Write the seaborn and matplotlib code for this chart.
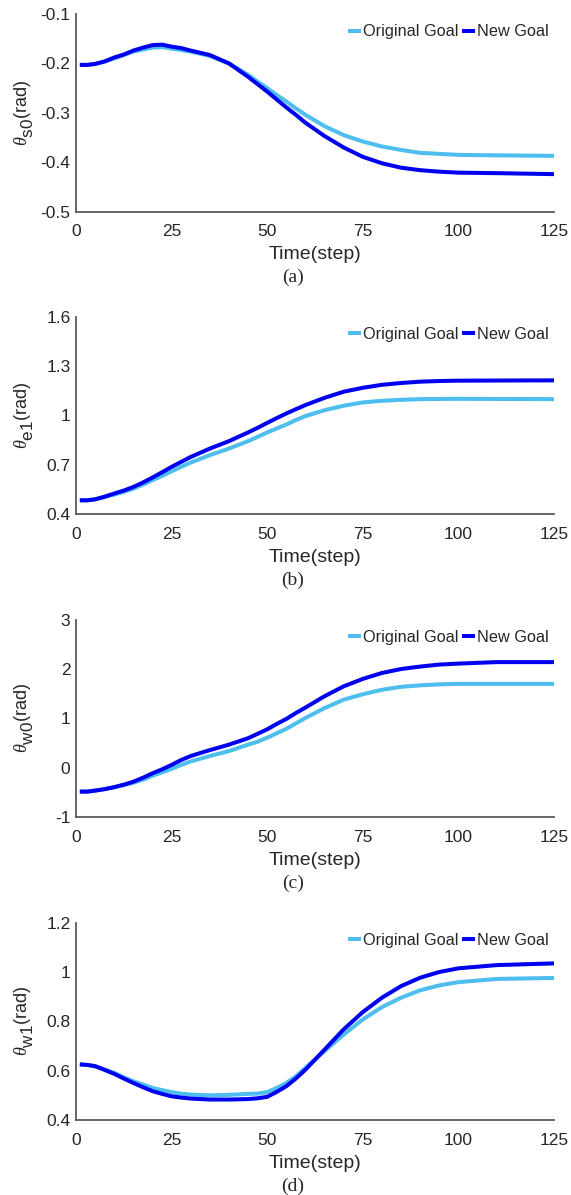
import numpy as np
import pandas as pd
import matplotlib
matplotlib.use("Agg")
import matplotlib.pyplot as plt
import matplotlib._mathtext as mathtext_engine
import seaborn as sns

# Time steps at which the joint angles are sampled
steps = [1, 3, 5, 7.5, 10, 12.5, 15, 17.5, 20, 22.5, 25, 27.5, 30, 35, 40, 45,
         47.5, 50, 52.5, 55, 57.5, 60, 65, 70, 75, 80, 85, 90, 95, 100, 110, 125]

# Shoulder joint s0 (rad)
s0_original = [-0.203, -0.203, -0.201, -0.196, -0.190, -0.183, -0.176, -0.172, -0.168,
               -0.167, -0.170, -0.173, -0.176, -0.185, -0.200, -0.223, -0.237, -0.250,
               -0.264, -0.277, -0.291, -0.304, -0.327, -0.345, -0.358, -0.368, -0.375,
               -0.381, -0.383, -0.385, -0.386, -0.387]
s0_new = [-0.203, -0.203, -0.201, -0.196, -0.188, -0.182, -0.174, -0.168, -0.163,
          -0.162, -0.166, -0.169, -0.174, -0.183, -0.200, -0.227, -0.242, -0.257,
          -0.273, -0.289, -0.304, -0.320, -0.347, -0.370, -0.389, -0.402, -0.411,
          -0.416, -0.419, -0.421, -0.422, -0.424]

# Elbow joint e1 (rad)
e1_original = [0.485, 0.485, 0.491, 0.505, 0.520, 0.536, 0.556, 0.580, 0.607, 0.633,
               0.661, 0.688, 0.714, 0.759, 0.799, 0.844, 0.870, 0.897, 0.921, 0.945,
               0.972, 0.996, 1.032, 1.059, 1.079, 1.089, 1.095, 1.099, 1.100, 1.101,
               1.100, 1.099]
e1_new = [0.485, 0.485, 0.491, 0.507, 0.526, 0.544, 0.566, 0.593, 0.623, 0.655,
          0.688, 0.718, 0.748, 0.799, 0.844, 0.897, 0.925, 0.955, 0.984, 1.012,
          1.038, 1.063, 1.107, 1.144, 1.168, 1.186, 1.197, 1.205, 1.209, 1.211,
          1.212, 1.213]

# Wrist joint w0 (rad)
w0_original = [-0.48, -0.48, -0.46, -0.43, -0.39, -0.35, -0.30, -0.24, -0.16, -0.09,
               -0.02, 0.06, 0.13, 0.24, 0.34, 0.47, 0.53, 0.61, 0.70, 0.79,
               0.90, 1.01, 1.21, 1.38, 1.49, 1.58, 1.64, 1.67, 1.69, 1.70,
               1.70, 1.70]
w0_new = [-0.48, -0.48, -0.46, -0.43, -0.39, -0.34, -0.28, -0.20, -0.11, -0.03,
          0.06, 0.16, 0.24, 0.36, 0.47, 0.60, 0.69, 0.78, 0.89, 0.99,
          1.11, 1.22, 1.45, 1.65, 1.80, 1.92, 2.00, 2.05, 2.09, 2.11,
          2.14, 2.14]

# Wrist joint w1 (rad)
w1_original = [0.626, 0.624, 0.619, 0.605, 0.592, 0.574, 0.558, 0.545, 0.531, 0.522,
               0.514, 0.508, 0.504, 0.501, 0.503, 0.507, 0.508, 0.514, 0.531, 0.551,
               0.578, 0.612, 0.680, 0.747, 0.808, 0.858, 0.896, 0.926, 0.946, 0.959,
               0.972, 0.976]
w1_new = [0.626, 0.624, 0.619, 0.604, 0.588, 0.569, 0.551, 0.534, 0.518, 0.507,
          0.497, 0.492, 0.488, 0.484, 0.484, 0.486, 0.489, 0.495, 0.515, 0.538,
          0.569, 0.605, 0.686, 0.768, 0.838, 0.896, 0.943, 0.977, 1.000, 1.015,
          1.028, 1.035]

series_names = ["Original Goal", "New Goal"]
x_ticks = [0, 25, 50, 75, 100, 125]

panels = [
    dict(orig=s0_original, new=s0_new, joint="s0", caption="(a)",
         yticks=[-0.5, -0.4, -0.3, -0.2, -0.1],
         yticklabels=["-0.5", "-0.4", "-0.3", "-0.2", "-0.1"]),
    dict(orig=e1_original, new=e1_new, joint="e1", caption="(b)",
         yticks=[0.4, 0.7, 1.0, 1.3, 1.6],
         yticklabels=["0.4", "0.7", "1", "1.3", "1.6"]),
    dict(orig=w0_original, new=w0_new, joint="w0", caption="(c)",
         yticks=[-1, 0, 1, 2, 3],
         yticklabels=["-1", "0", "1", "2", "3"]),
    dict(orig=w1_original, new=w1_new, joint="w1", caption="(d)",
         yticks=[0.4, 0.6, 0.8, 1.0, 1.2],
         yticklabels=["0.4", "0.6", "0.8", "1", "1.2"]),
]

sns.set_theme(style="white")
plt.rcParams["font.family"] = ["Liberation Sans", "DejaVu Sans"]
plt.rcParams["axes.unicode_minus"] = False
plt.rcParams["mathtext.fontset"] = "custom"
plt.rcParams["mathtext.rm"] = "Liberation Sans"
plt.rcParams["mathtext.it"] = "Liberation Serif:italic"
# joint subscripts: nearly full size and set below the baseline
mathtext_engine.SHRINK_FACTOR = 0.95
mathtext_engine.FontConstantsBase.sub1 = 0.75

palette = {"Original Goal": "#4DBEEE", "New Goal": "#0000F0"}
axis_color = "#5a5a5a"
text_color = "#262626"

W, H = 571, 1195
fig = plt.figure(figsize=(W / 100, H / 100), dpi=100)

left_px, right_px = 76, 554
bottoms_px = [211.7, 514.3, 817.3, 1120.3]
height_px = 197.7

for p, bottom in zip(panels, bottoms_px):
    ax = fig.add_axes([left_px / W, 1 - bottom / H,
                       (right_px - left_px) / W, height_px / H])
    df = pd.DataFrame({
        "step": steps * 2,
        "angle": list(p["orig"]) + list(p["new"]),
        "goal": [series_names[0]] * len(steps) + [series_names[1]] * len(steps),
    })
    sns.lineplot(data=df, x="step", y="angle", hue="goal", hue_order=series_names,
                 palette=palette, linewidth=2.9, errorbar=None, ax=ax,
                 solid_joinstyle="round", solid_capstyle="butt")

    ax.set_xlim(0, 125)
    ax.set_ylim(p["yticks"][0], p["yticks"][-1])
    ax.set_xticks(x_ticks)
    ax.set_xticklabels([str(t) for t in x_ticks])
    ax.set_yticks(p["yticks"])
    ax.set_yticklabels(p["yticklabels"])

    for side in ("top", "right"):
        ax.spines[side].set_visible(False)
    for side in ("left", "bottom"):
        ax.spines[side].set_color(axis_color)
        ax.spines[side].set_linewidth(1.3)
    ax.tick_params(direction="in", length=4, width=1.1, color=axis_color,
                   labelsize=12.5, labelcolor=text_color)
    ax.tick_params(axis="x", pad=9)
    ax.tick_params(axis="y", pad=4)

    ax.set_xlabel("Time(step)", fontsize=14, color=text_color)
    ax.xaxis.set_label_coords(0.5, -0.175)
    ax.set_ylabel(r"$\theta_{\mathrm{" + p["joint"] + r"}}$(rad)",
                  fontsize=13, color=text_color)
    ax.yaxis.set_label_coords(-0.083, 0.5)

    handles, labels = ax.get_legend_handles_labels()
    ax.legend(handles, labels, loc="center right", bbox_to_anchor=(0.988, 0.909),
              ncol=2, frameon=False, fontsize=11.7, handlelength=0.8,
              handletextpad=0.12, columnspacing=0.2, borderpad=0,
              borderaxespad=0, labelcolor=text_color)

    ax.text(0.454, -0.334, p["caption"], transform=ax.transAxes,
            ha="center", va="center", fontsize=14,
            family="Liberation Serif", color=text_color)

fig.savefig("out.png", dpi=100)
